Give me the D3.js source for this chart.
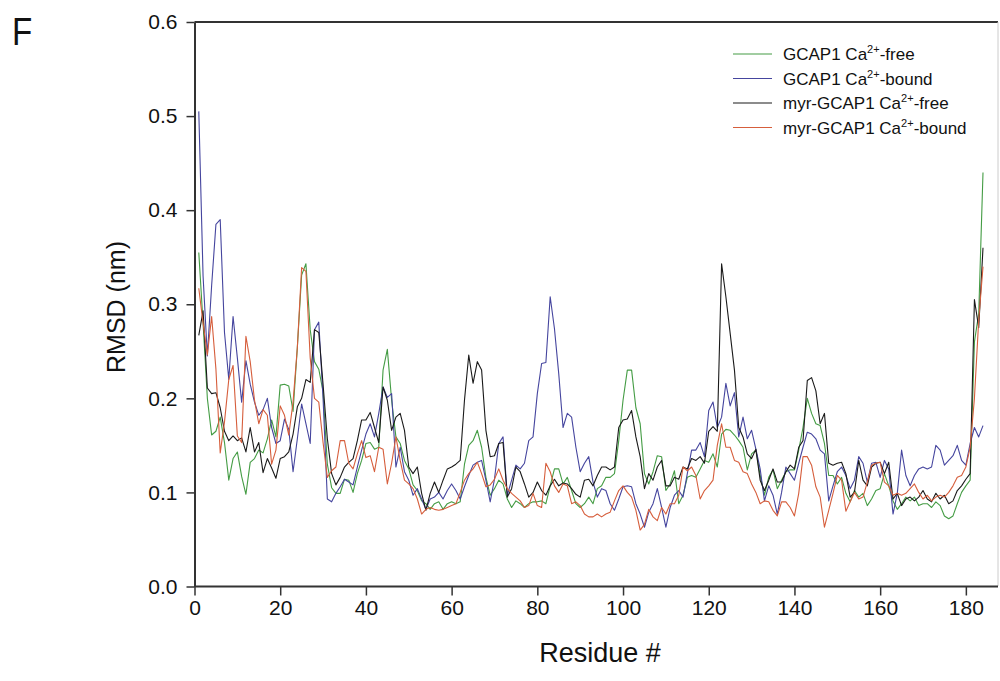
<!DOCTYPE html>
<html>
<head>
<meta charset="utf-8">
<script src="https://d3js.org/d3.v7.min.js"></script>
<style>
  body { margin: 0; background: #fff; }
  svg { display: block; font-family: Arial, "Liberation Sans", sans-serif; }
</style>
</head>
<body>
<svg id="chart"></svg>
<script>
// residue numbers 1..184
const residues = d3.range(1, 185);

const x_ticks = [0, 20, 40, 60, 80, 100, 120, 140, 160, 180];
const y_ticks = [0.0, 0.1, 0.2, 0.3, 0.4, 0.5, 0.6];

const series_names = ['GCAP1 Ca|-free', 'GCAP1 Ca|-bound', 'myr-GCAP1 Ca|-free', 'myr-GCAP1 Ca|-bound'];

const gcap1_free = [
  0.355,0.28,0.20,0.161,0.165,0.18,0.153,0.113,0.136,0.143,
  0.117,0.098,0.132,0.136,0.145,0.142,0.157,0.177,0.159,0.214,
  0.215,0.213,0.186,0.254,0.331,0.343,0.273,0.239,0.231,0.207,
  0.13,0.105,0.099,0.099,0.114,0.113,0.1,0.12,0.134,0.152,
  0.153,0.146,0.148,0.23,0.252,0.198,0.159,0.152,0.134,0.125,
  0.108,0.102,0.091,0.088,0.082,0.088,0.09,0.082,0.088,0.09,
  0.088,0.09,0.13,0.15,0.155,0.166,0.148,0.116,0.097,0.104,
  0.113,0.109,0.093,0.084,0.091,0.088,0.084,0.088,0.09,0.09,
  0.091,0.088,0.107,0.125,0.125,0.109,0.116,0.102,0.088,0.084,
  0.088,0.095,0.088,0.104,0.107,0.116,0.116,0.12,0.155,0.198,
  0.23,0.23,0.19,0.173,0.12,0.109,0.122,0.139,0.138,0.102,
  0.109,0.123,0.088,0.097,0.116,0.118,0.116,0.125,0.134,0.132,
  0.141,0.127,0.162,0.167,0.166,0.161,0.155,0.148,0.124,0.141,
  0.145,0.118,0.097,0.116,0.124,0.104,0.113,0.122,0.124,0.124,
  0.145,0.169,0.2,0.184,0.173,0.171,0.152,0.118,0.118,0.109,
  0.116,0.099,0.09,0.102,0.095,0.099,0.086,0.093,0.102,0.104,
  0.12,0.107,0.091,0.082,0.088,0.095,0.091,0.095,0.086,0.088,
  0.088,0.084,0.09,0.086,0.075,0.072,0.075,0.088,0.1,0.107,
  0.113,0.26,0.29,0.44
];

const gcap1_bound = [
  0.505,0.33,0.245,0.32,0.385,0.39,0.27,0.22,0.287,0.243,
  0.196,0.24,0.215,0.196,0.182,0.188,0.2,0.169,0.152,0.155,
  0.178,0.167,0.122,0.157,0.194,0.173,0.152,0.273,0.281,0.2,
  0.093,0.09,0.099,0.106,0.114,0.111,0.108,0.127,0.145,0.162,
  0.173,0.159,0.184,0.212,0.201,0.205,0.127,0.148,0.122,0.113,
  0.097,0.104,0.093,0.082,0.093,0.095,0.1,0.093,0.102,0.109,
  0.102,0.093,0.106,0.118,0.129,0.132,0.134,0.113,0.09,0.114,
  0.152,0.159,0.097,0.113,0.129,0.125,0.131,0.155,0.159,0.205,
  0.237,0.238,0.308,0.274,0.226,0.169,0.184,0.18,0.148,0.122,
  0.131,0.138,0.111,0.095,0.104,0.102,0.088,0.081,0.093,0.106,
  0.107,0.106,0.088,0.077,0.063,0.079,0.088,0.104,0.084,0.063,
  0.084,0.097,0.102,0.095,0.12,0.145,0.145,0.153,0.138,0.187,
  0.196,0.169,0.18,0.216,0.192,0.206,0.159,0.18,0.157,0.166,
  0.146,0.125,0.091,0.107,0.097,0.077,0.1,0.127,0.12,0.113,
  0.131,0.148,0.164,0.162,0.157,0.145,0.141,0.091,0.107,0.122,
  0.127,0.118,0.104,0.113,0.138,0.131,0.111,0.131,0.132,0.116,
  0.134,0.125,0.077,0.099,0.145,0.118,0.107,0.118,0.125,0.127,
  0.125,0.127,0.15,0.145,0.129,0.134,0.139,0.15,0.134,0.129,
  0.152,0.169,0.159,0.171
];

const myr_free = [
  0.267,0.293,0.211,0.205,0.206,0.19,0.165,0.155,0.16,0.155,
  0.158,0.143,0.169,0.143,0.153,0.121,0.136,0.126,0.115,0.136,
  0.138,0.143,0.162,0.191,0.2,0.22,0.217,0.273,0.27,0.215,
  0.157,0.12,0.108,0.116,0.127,0.132,0.136,0.155,0.177,0.177,
  0.185,0.169,0.153,0.212,0.198,0.166,0.18,0.184,0.166,0.127,
  0.12,0.127,0.099,0.081,0.099,0.111,0.1,0.113,0.125,0.127,
  0.13,0.134,0.198,0.246,0.216,0.239,0.23,0.166,0.138,0.139,
  0.152,0.153,0.095,0.104,0.127,0.122,0.109,0.095,0.1,0.111,
  0.102,0.097,0.107,0.114,0.107,0.11,0.109,0.104,0.098,0.095,
  0.113,0.114,0.107,0.118,0.127,0.127,0.124,0.127,0.169,0.177,
  0.178,0.187,0.159,0.138,0.104,0.12,0.113,0.127,0.134,0.107,
  0.107,0.116,0.114,0.127,0.125,0.136,0.134,0.138,0.131,0.165,
  0.17,0.165,0.343,0.308,0.269,0.23,0.169,0.159,0.141,0.136,
  0.146,0.113,0.102,0.113,0.125,0.111,0.111,0.122,0.129,0.125,
  0.148,0.155,0.219,0.222,0.208,0.173,0.184,0.131,0.129,0.131,
  0.132,0.12,0.095,0.1,0.134,0.113,0.107,0.127,0.131,0.132,
  0.12,0.132,0.093,0.099,0.086,0.093,0.095,0.091,0.095,0.102,
  0.093,0.09,0.099,0.093,0.097,0.088,0.091,0.102,0.107,0.114,
  0.12,0.305,0.275,0.36
];

const myr_bound = [
  0.317,0.28,0.246,0.287,0.231,0.142,0.175,0.22,0.235,0.16,
  0.153,0.266,0.239,0.198,0.173,0.188,0.182,0.13,0.145,0.192,
  0.182,0.161,0.196,0.254,0.339,0.335,0.243,0.2,0.196,0.153,
  0.116,0.123,0.127,0.155,0.155,0.131,0.125,0.141,0.155,0.137,
  0.139,0.122,0.148,0.146,0.109,0.131,0.159,0.134,0.113,0.109,
  0.104,0.093,0.077,0.082,0.084,0.082,0.081,0.082,0.084,0.086,
  0.088,0.1,0.113,0.12,0.125,0.132,0.12,0.106,0.108,0.114,
  0.125,0.113,0.104,0.099,0.095,0.091,0.084,0.086,0.099,0.086,
  0.084,0.131,0.122,0.107,0.1,0.109,0.107,0.088,0.09,0.086,
  0.077,0.074,0.074,0.077,0.074,0.077,0.079,0.091,0.102,0.107,
  0.1,0.095,0.081,0.06,0.066,0.082,0.074,0.07,0.084,0.077,
  0.088,0.088,0.097,0.127,0.123,0.127,0.118,0.093,0.102,0.107,
  0.113,0.15,0.173,0.148,0.148,0.134,0.132,0.122,0.12,0.109,
  0.1,0.088,0.091,0.09,0.081,0.075,0.09,0.09,0.084,0.075,
  0.099,0.138,0.138,0.129,0.106,0.095,0.063,0.081,0.099,0.118,
  0.113,0.08,0.09,0.1,0.093,0.095,0.111,0.129,0.131,0.132,
  0.111,0.107,0.097,0.099,0.097,0.099,0.104,0.109,0.1,0.093,
  0.097,0.091,0.095,0.097,0.095,0.1,0.107,0.116,0.118,0.127,
  0.148,0.2,0.283,0.34
];

const series_colors = ['#449c44', '#45459e', '#1a1a1a', '#d65e3c'];

class RmsdChart {
    constructor (config) {
        this.config = {
            parent: config.parent,
            width: config.width || 1000,
            height: config.height || 681,
            margin: config.margin || {top:22, right:2, bottom:95, left:194.5}
        };
        this.init();
    }

    init() {
        let self = this;

        self.svg = d3.select(self.config.parent)
            .attr('width', self.config.width)
            .attr('height', self.config.height);

        const m = self.config.margin;
        self.left = m.left;
        self.right = self.config.width - m.right;
        self.top = m.top;
        self.bottom = self.config.height - m.bottom;

        self.x = d3.scaleLinear()
            .domain([0, 187.5])
            .range([self.left, self.right]);

        self.y = d3.scaleLinear()
            .domain([0, 0.6])
            .range([self.bottom + 0.5, self.top]);

        self.data = [gcap1_free, gcap1_bound, myr_free, myr_bound].map((vals, i) => ({
            name: series_names[i],
            color: series_colors[i],
            values: residues.map((r, j) => ({r: r, v: vals[j]}))
        }));
    }

    render() {
        let self = this;

        // frame: top and right edges
        self.svg.append('line')
            .attr('x1', self.left).attr('x2', self.right)
            .attr('y1', self.top).attr('y2', self.top)
            .attr('stroke', '#333').attr('stroke-width', 2);
        self.svg.append('line')
            .attr('x1', self.right).attr('x2', self.right)
            .attr('y1', self.top).attr('y2', self.bottom)
            .attr('stroke', '#ccc').attr('stroke-width', 1);

        const line = d3.line()
            .x(d => self.x(d.r))
            .y(d => self.y(d.v));

        self.svg.append('g')
            .selectAll('path')
            .data(self.data)
            .join('path')
            .attr('fill', 'none')
            .attr('stroke', d => d.color)
            .attr('stroke-width', 1.1)
            .attr('stroke-linejoin', 'round')
            .attr('d', d => line(d.values));

        // axes
        const x_axis = self.svg.append('g')
            .attr('transform', `translate(0,${self.y(0)})`)
            .call(d3.axisBottom(self.x).tickValues(x_ticks).tickSize(9).tickSizeOuter(0).tickPadding(5));
        const y_axis = self.svg.append('g')
            .attr('transform', `translate(${self.left},0)`)
            .call(d3.axisLeft(self.y).tickValues(y_ticks).tickFormat(d3.format('.1f')).tickSize(8).tickSizeOuter(0).tickPadding(9));

        [x_axis, y_axis].forEach(g => {
            g.select('.domain').attr('stroke', '#333').attr('stroke-width', 2);
            g.selectAll('.tick line').attr('stroke', '#333').attr('stroke-width', 1.5);
            g.selectAll('.tick text')
                .attr('fill', '#111')
                .style('font-size', '21px')
                .style('font-family', 'Arial, "Liberation Sans", sans-serif');
        });
        x_axis.select('.domain').attr('d', `M${self.left},0H${self.right}`);

        // axis titles
        self.svg.append('text')
            .attr('x', 600)
            .attr('y', 662)
            .attr('text-anchor', 'middle')
            .attr('fill', '#111')
            .style('font-size', '27px')
            .text('Residue #');

        self.svg.append('text')
            .attr('transform', `translate(125,${(self.top + self.bottom) / 2 + 3}) rotate(-90)`)
            .attr('text-anchor', 'middle')
            .attr('fill', '#111')
            .style('font-size', '25px')
            .text('RMSD (nm)');

        // panel letter
        self.svg.append('text')
            .attr('transform', 'translate(12,45) scale(0.85,1)')
            .attr('fill', '#111')
            .style('font-size', '39px')
            .text('F');

        self.render_legend();
    }

    render_legend() {
        let self = this;
        const lx = 733, ly = 54, row = 24.5;

        const items = self.svg.append('g')
            .selectAll('g')
            .data(self.data)
            .join('g')
            .attr('transform', (d, i) => `translate(${lx},${ly + i * row})`);

        items.append('line')
            .attr('x1', 0).attr('x2', 39)
            .attr('y1', 0).attr('y2', 0)
            .attr('stroke', d => d.color)
            .attr('stroke-width', 1.1);

        const label = items.append('text')
            .attr('x', 50)
            .attr('y', 6)
            .attr('fill', '#111')
            .style('font-size', '17px');

        label.each(function (d) {
            const parts = d.name.split('|');
            const t = d3.select(this);
            t.append('tspan').text(parts[0]);
            t.append('tspan').attr('dy', -7).style('font-size', '11px').text('2+');
            t.append('tspan').attr('dy', 7).text(parts[1]);
        });
    }
}

const chart = new RmsdChart({ parent: '#chart' });
chart.render();
</script>
</body>
</html>
